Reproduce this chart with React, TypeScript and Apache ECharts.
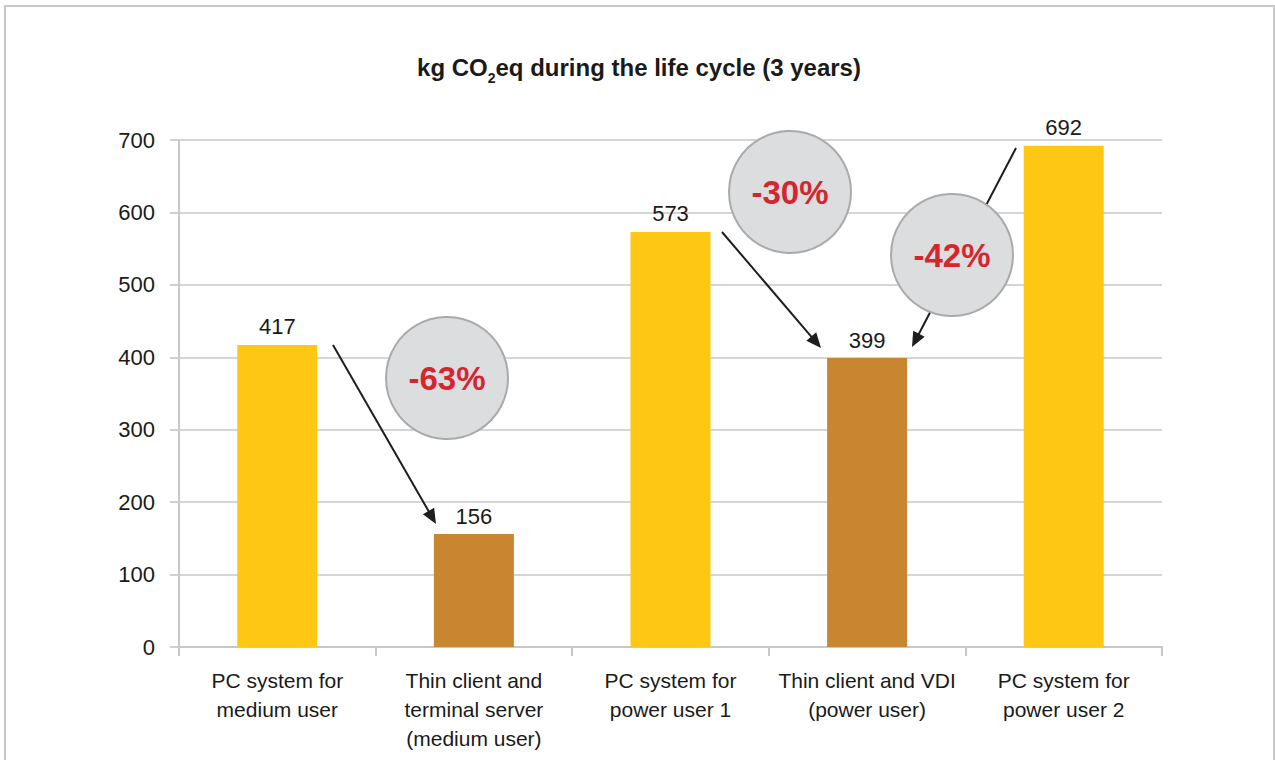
import React, { useEffect, useRef } from "react";
import * as echarts from "echarts";

const categories = [
  "PC system for\nmedium user",
  "Thin client and\nterminal server\n(medium user)",
  "PC system for\npower user 1",
  "Thin client and VDI\n(power user)",
  "PC system for\npower user 2",
];
const values = [417, 156, 573, 399, 692];
const kinds = ["pc", "thin", "pc", "thin", "pc"];
const reductions = ["-63%", "-30%", "-42%"];
const titleParts = ["kg CO", "2", "eq during the life cycle (3 years)"];

const YELLOW = "#FDC714";
const BROWN = "#C98631";
const FONT = "'Liberation Sans', Arial, sans-serif";
const BOLD = "'Liberation Sans', Arial, sans-serif";

// annotation layout (pixels)
const circles = [
  { cx: 447, cy: 378 },
  { cx: 790, cy: 192 },
  { cx: 952, cy: 255 },
];
const arrows = [
  { x1: 333, y1: 345, x2: 436, y2: 524 },
  { x1: 722, y1: 232, x2: 821, y2: 348 },
  { x1: 1016, y1: 148, x2: 912, y2: 347 },
];

function measure(text: string, font: string) {
  const c = document.createElement("canvas").getContext("2d")!;
  c.font = font;
  return c.measureText(text).width;
}

function titleGraphics() {
  const mainFont = `bold 24px ${BOLD}`;
  const subFont = `bold 14px ${BOLD}`;
  const w = [measure(titleParts[0], mainFont), measure(titleParts[1], subFont), measure(titleParts[2], mainFont)];
  const total = w[0] + w[1] + w[2];
  let x = 639 - total / 2;
  const out: any[] = [];
  titleParts.forEach((t, i) => {
    out.push({
      type: "text",
      x,
      y: i === 1 ? 78 : 67,
      style: {
        text: t,
        font: i === 1 ? subFont : mainFont,
        fill: "#1a1a1a",
        align: "left",
        verticalAlign: "middle",
      },
      z: 5,
    });
    x += w[i];
  });
  return out;
}

function arrowGraphics() {
  const out: any[] = [];
  arrows.forEach((a) => {
    const dx = a.x2 - a.x1;
    const dy = a.y2 - a.y1;
    const len = Math.sqrt(dx * dx + dy * dy);
    const ux = dx / len;
    const uy = dy / len;
    const hl = 15;
    const hw = 6.5;
    const bx = a.x2 - ux * hl;
    const by = a.y2 - uy * hl;
    out.push({
      type: "line",
      shape: { x1: a.x1, y1: a.y1, x2: bx + ux * 2, y2: by + uy * 2 },
      style: { stroke: "#1e1e1e", lineWidth: 2 },
      z: 10,
    });
    out.push({
      type: "polygon",
      shape: {
        points: [
          [a.x2, a.y2],
          [bx - uy * hw, by + ux * hw],
          [bx + uy * hw, by - ux * hw],
        ],
      },
      style: { fill: "#1e1e1e" },
      z: 10,
    });
  });
  return out;
}

function circleGraphics() {
  const out: any[] = [];
  circles.forEach((c, i) => {
    out.push({
      type: "circle",
      shape: { cx: c.cx, cy: c.cy, r: 61 },
      style: { fill: "#DCDDDF", stroke: "#A9AAAC", lineWidth: 2 },
      z: 20,
    });
    out.push({
      type: "text",
      x: c.cx,
      y: c.cy,
      style: {
        text: reductions[i],
        fill: "#D52630",
        font: `bold 33px ${BOLD}`,
        align: "center",
        verticalAlign: "middle",
      },
      z: 21,
    });
  });
  return out;
}

export default function App() {
  const ref = useRef<HTMLDivElement>(null);
  useEffect(() => {
    document.body.style.margin = "0";
    const chart = echarts.init(ref.current!, null, { renderer: "svg" });
    chart.setOption({
      animation: false,
      backgroundColor: "#ffffff",
      grid: { left: 179, right: 113, top: 140, bottom: 113, containLabel: false },
      xAxis: {
        type: "category",
        data: categories,
        boundaryGap: true,
        axisLine: { show: true, lineStyle: { color: "#C8C8C8", width: 2 } },
        axisTick: { show: true, length: 9, lineStyle: { color: "#C8C8C8", width: 2 } },
        axisLabel: {
          interval: 0,
          margin: 19,
          fontFamily: FONT,
          fontSize: 21,
          lineHeight: 29,
          color: "#1a1a1a",
          verticalAlign: "top",
        },
      },
      yAxis: {
        type: "value",
        min: 0,
        max: 700,
        interval: 100,
        axisLine: { show: true, lineStyle: { color: "#C8C8C8", width: 2 } },
        axisTick: { show: true, length: 9, lineStyle: { color: "#D0D0D0", width: 2 } },
        splitLine: { show: true, lineStyle: { color: "#D5D5D5", width: 2 } },
        axisLabel: {
          margin: 24,
          fontFamily: FONT,
          fontSize: 22,
          color: "#1a1a1a",
        },
      },
      series: [
        {
          type: "bar",
          barWidth: 80,
          data: values.map((v, i) => ({
            value: v,
            itemStyle: { color: kinds[i] === "pc" ? YELLOW : BROWN },
          })),
          label: {
            show: true,
            position: "top",
            distance: 7,
            fontFamily: FONT,
            fontSize: 22,
            color: "#1a1a1a",
          },
        },
      ],
      graphic: [
        {
          type: "rect",
          shape: { x: 5, y: 6, width: 1269, height: 770 },
          style: { fill: "none", stroke: "#C8C8C8", lineWidth: 2 },
          z: 0,
          silent: true,
        },
        ...titleGraphics(),
        ...arrowGraphics(),
        ...circleGraphics(),
      ],
    });
    return () => chart.dispose();
  }, []);
  return <div ref={ref} style={{ position: "absolute", left: 0, top: 0, width: 1275, height: 760 }} />;
}
